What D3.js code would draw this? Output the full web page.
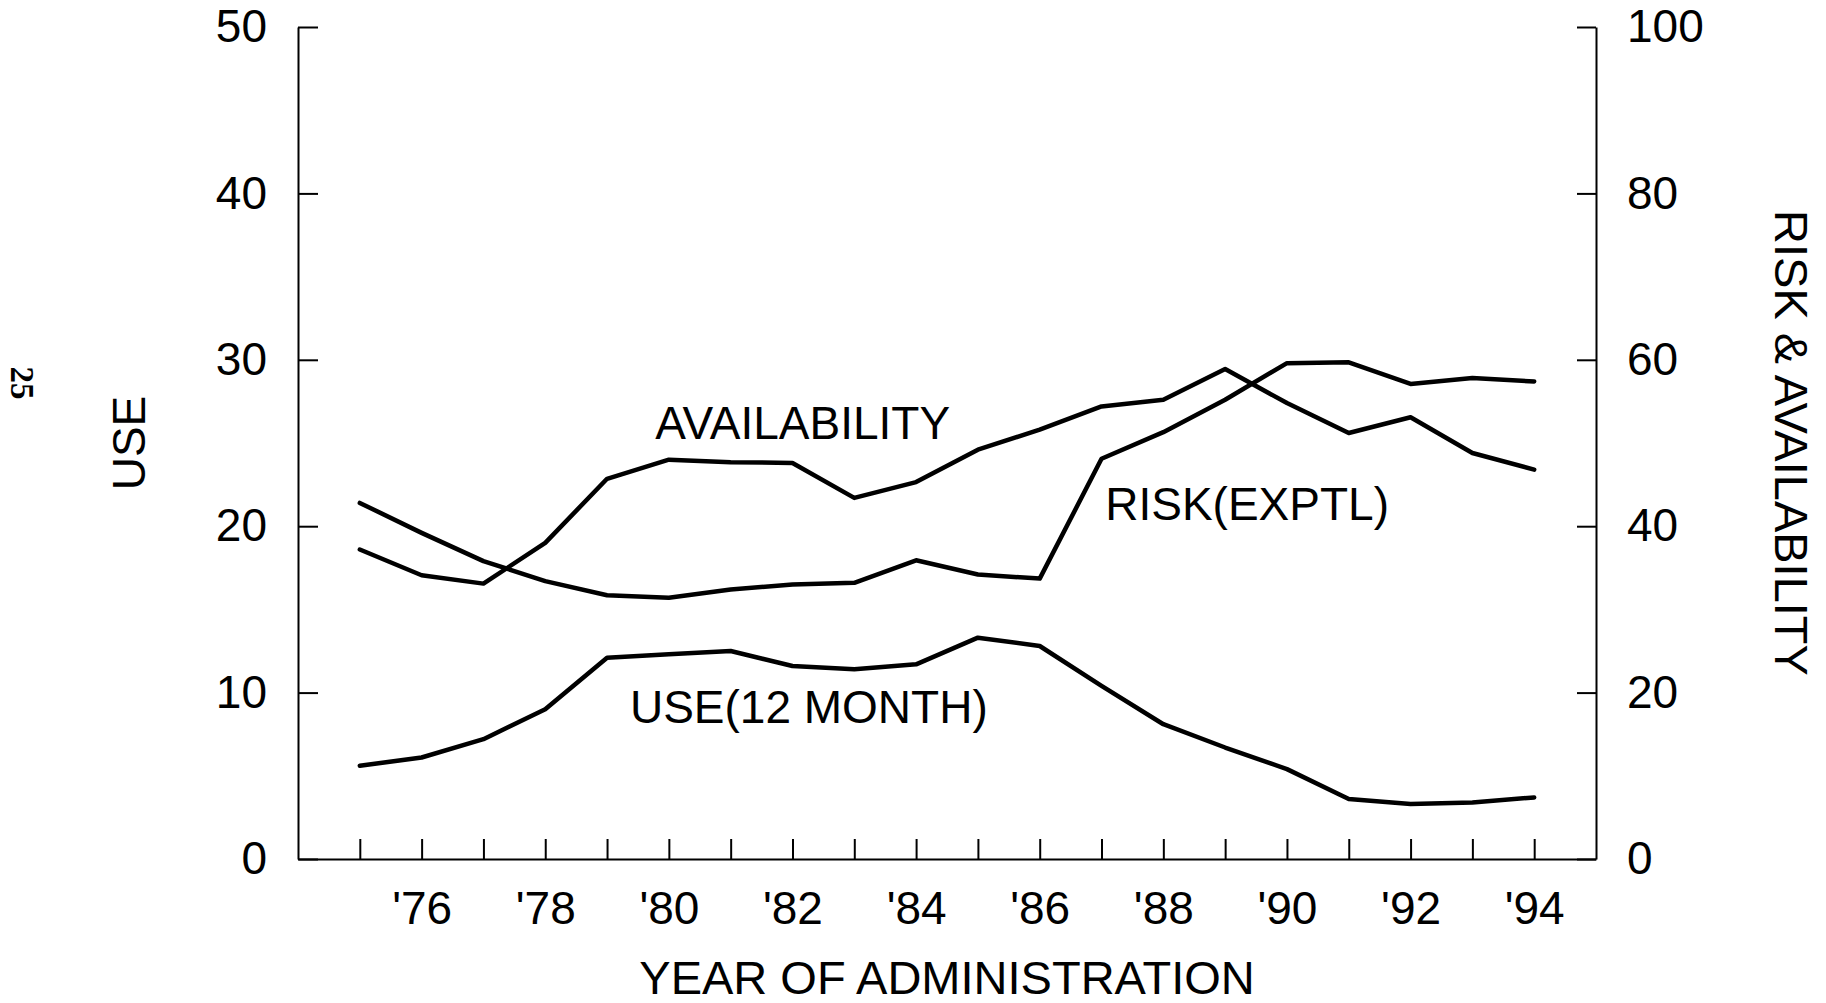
<!DOCTYPE html>
<html>
<head>
<meta charset="utf-8">
<script src="https://cdn.jsdelivr.net/npm/d3@7"></script>
<style>
  html, body { margin: 0; padding: 0; background: #fff; }
  svg { display: block; font-family: 'Liberation Sans', Arial, Helvetica, sans-serif; }
  .axis path, .axis line { stroke: #000; stroke-width: 2; }
  .axis text { font-size: 46px; fill: #000; font-family: 'Liberation Sans', Arial, Helvetica, sans-serif; }
  .series { fill: none; stroke: #000; stroke-width: 4.5; stroke-linejoin: round; stroke-linecap: round; }
  .title { font-size: 47px; fill: #000; }
  .series-label { font-size: 46px; fill: #000; }
</style>
</head>
<body>
<div id="chart"></div>
<script>
// Data
const years = [1975, 1976, 1977, 1978, 1979, 1980, 1981, 1982, 1983, 1984,
               1985, 1986, 1987, 1988, 1989, 1990, 1991, 1992, 1993, 1994]

// left axis (USE)
const use12Month = [5.6, 6.1, 7.2, 9.0, 12.1, 12.3, 12.5, 11.6, 11.4, 11.7,
                    13.3, 12.8, 10.4, 8.1, 6.7, 5.4, 3.6, 3.3, 3.4, 3.7]

// right axis (RISK & AVAILABILITY)
const riskExptl = [42.8, 39.2, 35.8, 33.4, 31.7, 31.4, 32.4, 33.0, 33.2, 35.9,
                   34.2, 33.7, 48.1, 51.3, 55.2, 59.6, 59.7, 57.1, 57.8, 57.4]
const availability = [37.2, 34.1, 33.1, 38.0, 45.7, 48.0, 47.7, 47.6, 43.4, 45.3,
                      49.2, 51.6, 54.4, 55.2, 58.9, 54.8, 51.2, 53.1, 48.8, 46.8]

const leftTicks = [0, 10, 20, 30, 40, 50]
const rightTicks = [0, 20, 40, 60, 80, 100]
const yearLabels = ["'76", "'78", "'80", "'82", "'84", "'86", "'88", "'90", "'92", "'94"]

// Inline labels: [text, year, value, axis]
const seriesLabels = [
  ['AVAILABILITY', 1979.78, 50.5, 'right'],
  ['RISK(EXPTL)', 1987.06, 40.7, 'right'],
  ['USE(12 MONTH)', 1979.37, 8.2, 'left']
]

// Chart geometry
let W = 1826, H = 1003
let margin = { top: 27, right: 230, bottom: 144, left: 298 },
    width = W - margin.left - margin.right,
    height = H - margin.top - margin.bottom

let svg = d3.select('#chart').append('svg')
    .attr('width', W)
    .attr('height', H)

let g = svg.append('g')
    .attr('transform', 'translate(' + margin.left + ',' + margin.top + ')')

// Scales
let x = d3.scaleLinear().domain([1974, 1995]).range([0, width]),
    yLeft = d3.scaleLinear().domain([0, 50]).range([height, 0]),
    yRight = d3.scaleLinear().domain([0, 100]).range([height, 0])

// Axes (ticks point inward)
let xAxis = d3.axisBottom(x)
    .tickValues(years)
    .tickSize(-20)
    .tickSizeOuter(0)
    .tickPadding(32)
    .tickFormat(d => {
      let lbl = "'" + (d % 100)
      return yearLabels.indexOf(lbl) >= 0 ? lbl : ''
    })

let leftAxis = d3.axisLeft(yLeft)
    .tickValues(leftTicks)
    .tickSize(-20)
    .tickSizeOuter(0)
    .tickPadding(31)

let rightAxis = d3.axisRight(yRight)
    .tickValues(rightTicks)
    .tickSize(-19)
    .tickSizeOuter(0)
    .tickPadding(31)

g.append('g')
  .attr('class', 'axis axis-x')
  .attr('transform', 'translate(0,' + height + ')')
  .call(xAxis)

g.append('g')
  .attr('class', 'axis axis-left')
  .call(leftAxis)

g.append('g')
  .attr('class', 'axis axis-right')
  .attr('transform', 'translate(' + width + ',0)')
  .call(rightAxis)

// Lines
let lineLeft = d3.line()
    .x((d, i) => x(years[i]))
    .y(d => yLeft(d))

let lineRight = d3.line()
    .x((d, i) => x(years[i]))
    .y(d => yRight(d))

g.append('path').attr('class', 'series').attr('d', lineLeft(use12Month))
g.append('path').attr('class', 'series').attr('d', lineRight(riskExptl))
g.append('path').attr('class', 'series').attr('d', lineRight(availability))

// Series labels
g.selectAll('.series-label')
  .data(seriesLabels)
  .enter().append('text')
  .attr('class', 'series-label')
  .attr('x', d => x(d[1]))
  .attr('y', d => (d[3] === 'left' ? yLeft(d[2]) : yRight(d[2])))
  .text(d => d[0])

// Axis titles
svg.append('text')
  .attr('class', 'title')
  .attr('text-anchor', 'middle')
  .attr('x', margin.left + width / 2)
  .attr('y', 994)
  .text('YEAR OF ADMINISTRATION')

svg.append('text')
  .attr('class', 'title')
  .attr('text-anchor', 'middle')
  .attr('transform', 'translate(145,' + (margin.top + height / 2) + ') rotate(-90)')
  .style('font-size', '46px')
  .text('USE')

svg.append('text')
  .attr('class', 'title')
  .attr('text-anchor', 'middle')
  .attr('transform', 'translate(1775,' + (margin.top + height / 2) + ') rotate(90)')
  .text('RISK & AVAILABILITY')

// Page number
svg.append('text')
  .attr('text-anchor', 'middle')
  .attr('transform', 'translate(11,383) rotate(90)')
  .style('font-family', "'Liberation Serif', 'DejaVu Serif', serif")
  .style('font-weight', 'bold')
  .style('font-size', '33px')
  .text('25')
</script>
</body>
</html>
